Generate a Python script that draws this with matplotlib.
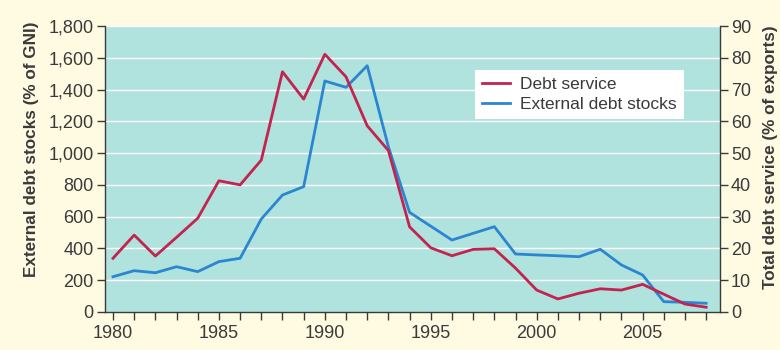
import matplotlib
matplotlib.use("Agg")
import matplotlib.pyplot as plt
from matplotlib.ticker import MultipleLocator, FuncFormatter

years = list(range(1980, 2009))
debt_service = [16.9, 24.2, 17.6, 23.5, 29.5, 41.3, 40.0, 47.8, 75.6, 67.0,
                81.1, 74.0, 58.6, 50.8, 26.8, 20.2, 17.7, 19.7, 19.9, 13.8,
                6.9, 4.1, 5.9, 7.3, 6.9, 8.7, 5.6, 2.5, 1.5]
external_debt = [222, 260, 247, 285, 254, 317, 338, 585, 736, 789,
                 1454, 1414, 1550, 1040, 627, 540, 453, 495, 537, 365,
                 359, 354, 348, 395, 296, 233, 65, 61, 55]

left_ticks = list(range(0, 1801, 200))
right_ticks = list(range(0, 91, 10))

plt.rcParams['font.family'] = ['Liberation Sans', 'DejaVu Sans']

bg = '#FFFBE3'
plot_bg = '#B0E2DE'
red = '#C2244F'
blue = '#2C86CF'
txt = '#3a3a3a'

fig = plt.figure(figsize=(7.8, 3.5), dpi=100, facecolor=bg)
ax = fig.add_axes([0.134, 0.1086, 0.789, 0.8171])
ax.set_facecolor(plot_bg)
ax2 = ax.twinx()

ax.set_xlim(1979.6, 2008.65)
ax.set_ylim(0, 1800)
ax2.set_ylim(0, 90)

ax.set_yticks(left_ticks)
ax.yaxis.set_major_formatter(FuncFormatter(lambda v, p: f"{int(v):,}"))
ax2.set_yticks(right_ticks)
ax.xaxis.set_major_locator(MultipleLocator(5))
ax.xaxis.set_minor_locator(MultipleLocator(1))

for y in left_ticks[1:]:
    ax.axhline(y, color='white', lw=1.0, zorder=1)

ax.plot(years, external_debt, color=blue, lw=2, zorder=3, label='External debt stocks')
ax2.plot(years, debt_service, color=red, lw=2, zorder=3, label='Debt service')

for a in (ax, ax2):
    a.spines['top'].set_visible(False)
    for s in a.spines.values():
        s.set_color(txt)
        s.set_linewidth(1.0)
ax.spines['right'].set_visible(False)
ax2.spines['left'].set_visible(False)
ax2.spines['bottom'].set_visible(False)

ax.tick_params(axis='both', which='both', direction='out', length=6, width=1,
               color=txt, labelcolor=txt, labelsize=13)
ax.tick_params(axis='y', pad=2)
ax2.tick_params(axis='y', direction='out', length=6, width=1, pad=2,
                color=txt, labelcolor=txt, labelsize=13)

ax.set_ylabel('External debt stocks (% of GNI)', fontsize=12.3, fontweight='bold', color=txt)
ax2.set_ylabel('Total debt service (% of exports)', fontsize=12.3, fontweight='bold', color=txt)
ax.yaxis.set_label_coords(-0.106, 0.57)
ax2.yaxis.set_label_coords(1.070, 0.54)

h1, l1 = ax2.get_legend_handles_labels()
h2, l2 = ax.get_legend_handles_labels()
leg = ax2.legend(h1 + h2, l1 + l2, loc='upper left', bbox_to_anchor=(0.602, 0.846),
                 frameon=True, fancybox=False, fontsize=12.5, handlelength=1.6,
                 borderpad=0.4, labelspacing=0.25, handletextpad=0.6, borderaxespad=0)
leg.get_frame().set_facecolor('white')
leg.get_frame().set_edgecolor('none')
leg.get_frame().set_alpha(1)
for t in leg.get_texts():
    t.set_color(txt)

fig.savefig('out.png', dpi=100, facecolor=bg)
